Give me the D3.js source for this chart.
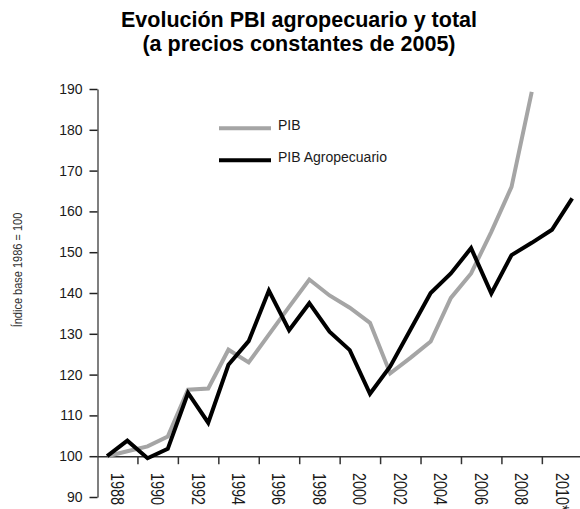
<!DOCTYPE html>
<html>
<head>
<meta charset="utf-8">
<script src="https://cdn.jsdelivr.net/npm/d3@7"></script>
<style>
  body { margin: 0; background: #fff; }
  text { font-family: "Liberation Sans", Arial, sans-serif; }
</style>
</head>
<body>
<script>
// years on the category axis
var years = d3.range(1988, 2012)
// PIB total (gray), ends 2009
var pib = [100, 101.2, 102.4, 104.8, 116.3, 116.6, 126.1, 123.0, 129.8, 136.6, 143.3, 139.4,
           136.4, 132.7, 120.3, 124.1, 128.1, 138.8, 144.8, 155.0, 166.0, 189.3]
// PIB agropecuario (black)
var pibAgro = [100, 103.8, 99.5, 101.8, 115.5, 108.2, 122.4, 128.2, 140.6, 130.9, 137.5, 130.5,
               126.0, 115.3, 122.0, 131.0, 140.0, 144.8, 151.0, 139.9, 149.3, 152.3, 155.5, 163.2]
var yTicks = d3.range(90, 191, 10)
var labelYears = d3.range(1988, 2011, 2)
var tickYears = d3.range(1989.5, 2010, 2)
var seriesNames = ['PIB', 'PIB Agropecuario']
var seriesColors = ['#a5a5a5', '#000000']
var titleLines = ['Evolución PBI agropecuario y total', '(a precios constantes de 2005)']

var width = 580, height = 509
var svg = d3.select('body').append('svg').attr('width', width).attr('height', height).attr('id', 'svg0')

// scales: categories are one year wide, points sit in the middle
var x = d3.scaleLinear().domain([1987.5, 2011.5]).range([97, 582.3])
var y = d3.scaleLinear().domain([90, 190]).range([497, 89])

// title, two separate lines
svg.append('g').selectAll('text').data(titleLines).enter().append('text')
  .attr('x', 299).attr('y', (d, i) => 26.5 + i * 24)
  .attr('text-anchor', 'middle').attr('font-size', '21.5px').attr('font-weight', 'bold')
  .text(d => d)

// y axis
var yAxis = svg.append('g').attr('transform', 'translate(97.5,0)')
  .call(d3.axisLeft(y).tickValues(yTicks).tickSize(8).tickSizeOuter(0).tickPadding(7))
yAxis.select('.domain').attr('stroke', '#555').attr('stroke-width', 1.5)
yAxis.selectAll('.tick line').attr('stroke', '#222').attr('stroke-width', 1.5)
yAxis.selectAll('.tick text').attr('font-size', '14px').attr('fill', '#1a1a1a')
  .style('font-family', '"Liberation Sans", Arial, sans-serif')

// y axis title
svg.append('text').attr('transform', 'translate(22,270) rotate(-90) scale(0.88,1)')
  .attr('text-anchor', 'middle').attr('font-size', '12.5px').attr('fill', '#333')
  .text('Índice base 1986 = 100')

// x axis crossing at 100
var xAxis = svg.append('g').attr('transform', 'translate(0,' + y(100) + ')')
  .call(d3.axisBottom(x).tickValues(tickYears).tickSize(8).tickSizeOuter(0).tickFormat(''))
xAxis.select('.domain').attr('stroke', '#333').attr('stroke-width', 1.5)
xAxis.selectAll('.tick line').attr('stroke', '#333').attr('stroke-width', 1.5)

// rotated, narrow year labels centred on each two-year span
svg.append('g').selectAll('text').data(labelYears).enter().append('text')
  .attr('transform', d => 'translate(' + x(d + 0.5) + ',473) rotate(90) scale(0.8,1)')
  .attr('dy', '0.36em').attr('font-size', '18px').attr('fill', '#1a1a1a')
  .text(d => d === 2010 ? '2010*' : d)

// lines
var line = d3.line().x(d => x(d[0])).y(d => y(d[1]))
var series = [pib, pibAgro]
series.forEach(function (vals, i) {
  svg.append('path')
    .attr('d', line(vals.map((v, j) => [years[j], v])))
    .attr('fill', 'none').attr('stroke', seriesColors[i])
    .attr('stroke-width', 4).attr('stroke-linejoin', 'miter')
})

// legend
var legend = svg.append('g').selectAll('g').data(seriesNames).enter().append('g')
  .attr('transform', (d, i) => 'translate(219,' + (128.3 + i * 32) + ')')
legend.append('line').attr('x1', 0).attr('x2', 52).attr('y1', 0).attr('y2', 0)
  .attr('stroke', (d, i) => seriesColors[i]).attr('stroke-width', 4)
legend.append('text').attr('x', 59).attr('y', 0).attr('dy', '0.1em')
  .attr('font-size', '14px').attr('fill', '#1a1a1a').text(d => d)
</script>
</body>
</html>
